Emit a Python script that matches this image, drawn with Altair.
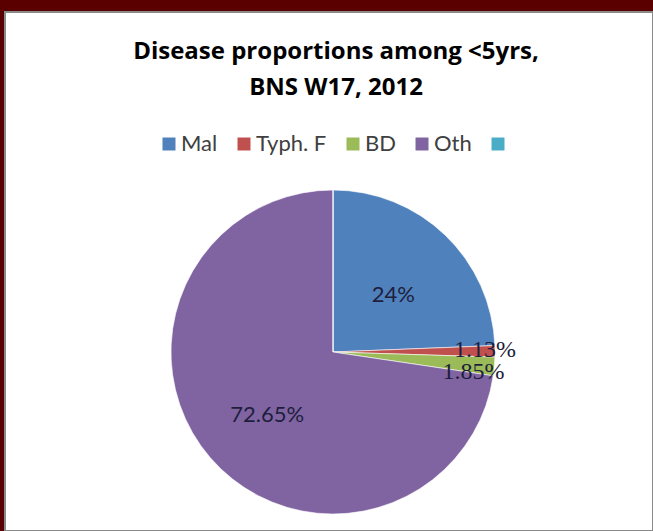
import altair as alt
import pandas as pd

# ---- data ----
categories = ["Mal", "Typh. F", "BD", "Oth", ""]
values = [24.37, 1.13, 1.85, 72.65, 0.0]
labels = ["24%", "1.13%", "1.85%", "72.65%", ""]
colors = ["#4F81BD", "#C0504D", "#9BBB59", "#8064A2", "#4BACC6"]
order_idx = [0, 1, 2, 3, 4]

df = pd.DataFrame({"cat": categories, "value": values, "label": labels, "ord": order_idx})

CX, CY = 328, 340
R = 162

base = alt.Chart(df).encode(
    theta=alt.Theta("value:Q", stack=True),
    order=alt.Order("ord:Q", sort="ascending"),
    x=alt.value(CX),
    y=alt.value(CY),
)

pie = base.mark_arc(outerRadius=R, stroke="white", strokeWidth=0.6).encode(
    color=alt.Color(
        "cat:N",
        sort=categories,
        scale=alt.Scale(domain=categories, range=colors),
        legend=alt.Legend(
            title=None,
            orient="none",
            legendX=153,
            legendY=121,
            direction="horizontal",
            columns=5,
            symbolType="square",
            symbolSize=169,
            symbolStrokeWidth=0,
            symbolOpacity=1,
            labelFont="Lato",
            labelFontSize=22,
            labelColor="#404040",
            labelOffset=1,
            columnPadding=15,
        ),
    )
)

big = base.transform_calculate(
    t="datum.value > 10 ? datum.label : ''"
).mark_text(radius=87, dy=6, font="Lato", fontSize=22, color="#1E1E3C").encode(text="t:N")

small_a = base.transform_calculate(
    t="datum.cat == 'Typh. F' ? datum.label : ''"
).mark_text(radius=152, dy=-1, font="Liberation Serif", fontSize=24, color="#1E1E3C").encode(text="t:N")

small_b = base.transform_calculate(
    t="datum.cat == 'BD' ? datum.label : ''"
).mark_text(radius=141, dy=7, font="Liberation Serif", fontSize=24, color="#1E1E3C").encode(text="t:N")

chart = alt.layer(pie, big, small_a, small_b).properties(
    width=648,
    height=519,
    autosize="none",
    padding={"left": 5, "top": 12, "right": 0, "bottom": 0},
    background="#5B0000",
    title=alt.TitleParams(
        text=["Disease proportions among <5yrs,", "BNS W17, 2012"],
        font="Open Sans",
        fontSize=24,
        fontWeight="bold",
        color="#000000",
        anchor="middle",
        baseline="top",
        offset=-88,
        lineHeight=36,
        dx=7,
    ),
).configure_view(fill="white", stroke="#8a8a8a", strokeWidth=2)

chart.save("out.html", embed_options={"renderer": "svg", "actions": False})
